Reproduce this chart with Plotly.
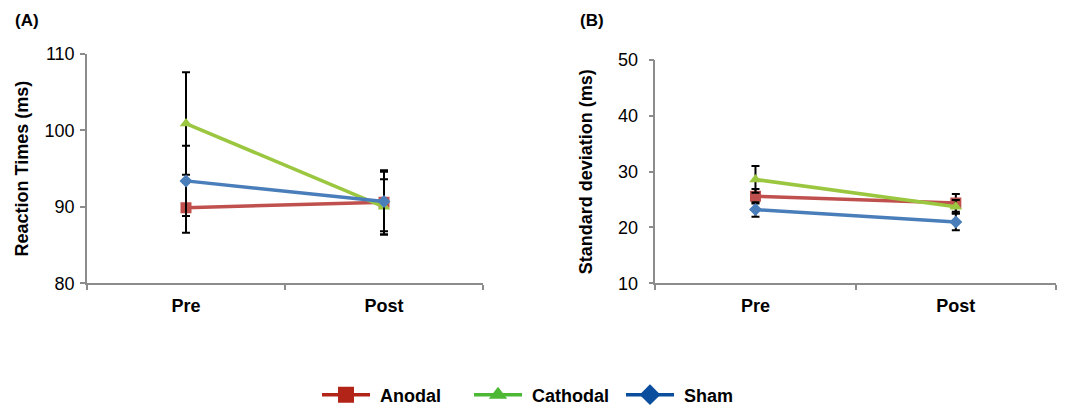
import plotly.graph_objects as go

phases = ["Pre", "Post"]
groups = ["Anodal", "Cathodal", "Sham"]

# Panel A: reaction times (ms)
rt_anodal = [89.9, 90.6]
rt_anodal_err = [3.3, 4.2]
rt_cathodal = [100.9, 90.0]
rt_cathodal_err = [6.7, 3.6]
rt_sham = [93.4, 90.7]
rt_sham_err = [4.6, 3.9]

# Panel B: standard deviation (ms)
sd_anodal = [25.6, 24.4]
sd_anodal_err = [1.3, 1.6]
sd_cathodal = [28.6, 23.7]
sd_cathodal_err = [2.4, 1.2]
sd_sham = [23.2, 21.0]
sd_sham_err = [1.3, 1.5]

line_colors = {"Anodal": "#C0504D", "Cathodal": "#9BC740", "Sham": "#4A7EBB"}
legend_colors = {"Anodal": "#B22418", "Cathodal": "#4DB833", "Sham": "#0B4E9E"}
symbols = {"Anodal": "square", "Cathodal": "triangle-up", "Sham": "diamond"}
msize = {"Anodal": 11, "Cathodal": 11, "Sham": 10}

FONT = "Liberation Sans, Arial, sans-serif"
OFF = 8  # page body margin around the figure
W, H = 1073 - OFF, 408 - OFF


def px_x(v):
    return (v - OFF) / W


def px_y(v):
    return 1 - (v - OFF) / H


fig = go.Figure()

panelA = {"Anodal": (rt_anodal, rt_anodal_err),
          "Cathodal": (rt_cathodal, rt_cathodal_err),
          "Sham": (rt_sham, rt_sham_err)}
panelB = {"Anodal": (sd_anodal, sd_anodal_err),
          "Cathodal": (sd_cathodal, sd_cathodal_err),
          "Sham": (sd_sham, sd_sham_err)}

for panel, (xa, ya) in ((panelA, ("x", "y")), (panelB, ("x2", "y2"))):
    for g in groups:
        vals, errs = panel[g]
        fig.add_trace(go.Scatter(
            x=phases, y=vals, xaxis=xa, yaxis=ya, mode="lines+markers",
            line=dict(color=line_colors[g], width=3.5),
            marker=dict(symbol=symbols[g], size=msize[g], color=line_colors[g]),
            error_y=dict(type="data", array=errs, visible=True, color="black",
                         thickness=2, width=4),
            showlegend=False, name=g, hoverinfo="skip"))

# legend entries
for g in groups:
    fig.add_trace(go.Scatter(
        x=[None], y=[None], mode="lines+markers", name="\u00a0" + g,
        line=dict(color=legend_colors[g], width=3.5),
        marker=dict(symbol=symbols[g], size=16, color=legend_colors[g]),
        showlegend=True))

axis_color = "#8C8C8C"
xcommon = dict(type="category", categoryorder="array", categoryarray=phases,
               range=[-0.5, 1.5], showline=True, linecolor=axis_color, linewidth=1.5,
               ticks="outside", tickson="boundaries", ticklen=5, tickcolor=axis_color,
               tickwidth=1.5, showgrid=False, zeroline=False, automargin=False,
               tickfont=dict(family=FONT, size=18, color="black", weight="bold"),
               ticklabelstandoff=5)
ycommon = dict(showline=True, linecolor=axis_color, linewidth=1.5, ticks="outside",
               ticklen=5, tickcolor=axis_color, tickwidth=1.5, showgrid=False,
               zeroline=False, automargin=False,
               tickfont=dict(family=FONT, size=18, color="black"))
title_font = dict(family=FONT, size=18, color="black", weight="bold")

fig.update_layout(
    width=W, height=H, margin=dict(l=0, r=0, t=0, b=0, autoexpand=False),
    paper_bgcolor="white", plot_bgcolor="white",
    xaxis=dict(domain=[px_x(87), px_x(483)], anchor="y", **xcommon),
    yaxis=dict(domain=[px_y(283.3), px_y(54)], anchor="x", range=[80, 110], dtick=10,
               ticklabelstandoff=2,
               title=dict(text="Reaction Times (ms)", standoff=11, font=title_font),
               **ycommon),
    xaxis2=dict(domain=[px_x(655.3), px_x(1056)], anchor="y2", **xcommon),
    yaxis2=dict(domain=[px_y(283.3), px_y(60)], anchor="x2", range=[10, 50], dtick=10,
                ticklabelstandoff=7,
                title=dict(text="Standard deviation (ms)", standoff=21, font=title_font),
                **ycommon),
    legend=dict(orientation="h", xref="container", yref="container",
                x=px_x(317), xanchor="left", y=px_y(395), yanchor="middle",
                font=dict(family=FONT, size=18, color="black", weight="bold"),
                itemwidth=48, entrywidth=89, bgcolor="rgba(0,0,0,0)"),
    annotations=[
        dict(text="(A)", x=px_x(13), y=px_y(21), xref="paper", yref="paper",
             xanchor="left", yanchor="middle", showarrow=False,
             font=dict(family=FONT, size=17, color="black", weight="bold")),
        dict(text="(B)", x=px_x(578), y=px_y(21), xref="paper", yref="paper",
             xanchor="left", yanchor="middle", showarrow=False,
             font=dict(family=FONT, size=17, color="black", weight="bold")),
    ],
)

fig.write_html("out.html")
